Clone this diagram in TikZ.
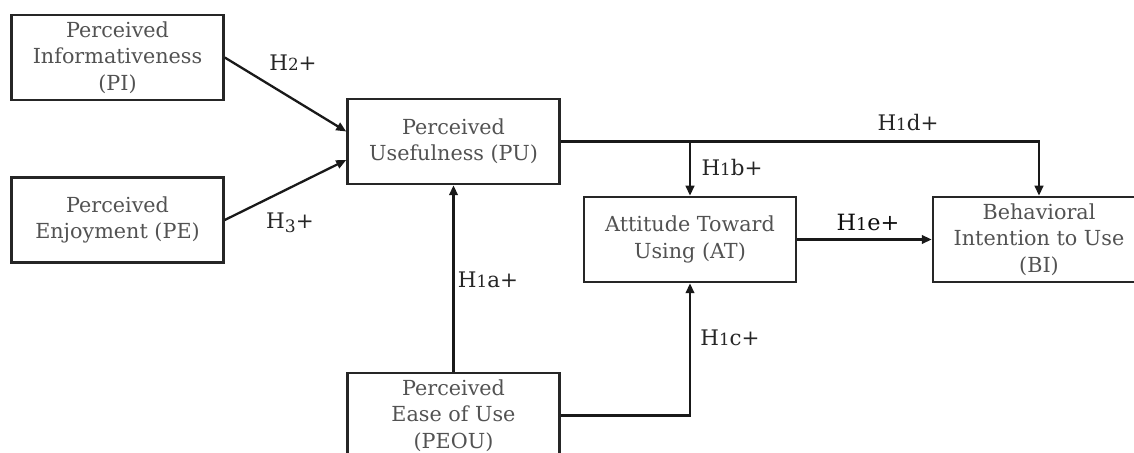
\documentclass[tikz,border=0pt]{standalone}
\usepackage{fontspec}
\setmainfont{DejaVu Serif}
\usetikzlibrary{arrows.meta}
% small hanging-style figures for the hypothesis labels
\newcommand\osd[1]{\scalebox{0.78}{#1}}
\newcommand\osdd[1]{\raisebox{-0.16em}{\scalebox{0.8}{#1}}}

\begin{document}
\begin{tikzpicture}[x=1bp,y=-1bp,
  box/.style={draw=black!85, line width=2.5bp, minimum width=212bp, minimum height=85bp,
    inner sep=0pt, align=center, text=black!68, font=\fontsize{20.8}{26.5}\selectfont},
  link/.style={draw=black!90, line width=2.3bp, -{Triangle[length=10bp,width=8.5bp]}},
  hyp/.style={text=black!85, font=\fontsize{21.5}{24}\selectfont, inner sep=0pt}]
\clip (0,0) rectangle (1134,453);

% constructs
\node[box] (PI) at (117.5,57.5) {Perceived\\Informativeness\\(PI)};
\node[box] (PE) at (117.5,220) {Perceived\\Enjoyment (PE)};
\node[box] (PU) at (453.5,141.5) {Perceived\\Usefulness (PU)};
\node[box] (AT) at (690,239.5) {Attitude Toward\\Using (AT)};
\node[box] (BI) at (1039,239.5) {Behavioral\\Intention to Use\\(BI)};
\node[box] (PEOU) at (453.5,415.5) {Perceived\\Ease of Use\\(PEOU)};

% routing points
\coordinate (split) at (PU.east -| AT.north);
\coordinate (bend) at (PU.east -| BI.north);
\coordinate (elbow) at (PEOU.east -| AT.south);

% paths
\draw[link] (PI.east) -- ([yshift=10bp]PU.west);
\draw[link] (PE.east) -- ([yshift=-18.5bp]PU.west);
\draw[link] (PEOU.north) -- (PU.south);
\draw[link] (PU.east) -- (bend) -- (BI.north);
\draw[link] (split) -- (AT.north);
\draw[link] (PEOU.east) -- (elbow) -- (AT.south);
\draw[link] (AT.east) -- (BI.west);

% hypothesis labels
\node[hyp] (h2) at (293,63) {H\osd{2}+};
\node[hyp] (h3) at (290,223) {H\osdd{3}+};
\node[hyp] (h1a) at (488,280) {H\osd{1}a+};
\node[hyp] (h1b) at (732,168) {H\osd{1}b+};
\node[hyp] (h1c) at (730,338) {H\osd{1}c+};
\node[hyp] (h1d) at (908,123) {H\osd{1}d+};
\node[hyp, text=black!95, font=\fontsize{22.5}{24}\selectfont] (h1e) at (868,222) {H\osd{1}e+};
\end{tikzpicture}
\end{document}
